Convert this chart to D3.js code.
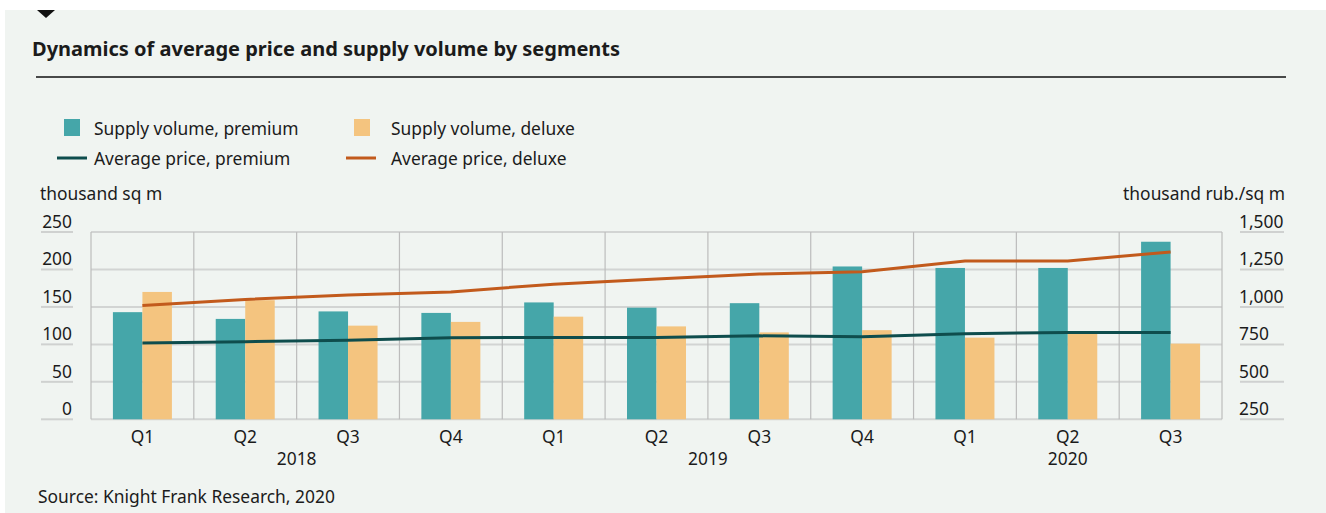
<!DOCTYPE html>
<html>
<head>
<meta charset="utf-8">
<script src="https://cdn.jsdelivr.net/npm/d3@7"></script>
<style>
  body { margin: 0; background: #fff; }
  svg text { font-family: "Noto Sans", "Open Sans", sans-serif; fill: #1b1b1b; }
</style>
</head>
<body>
<div id="chart-area"></div>
<script>
// data
const quarters = ["Q1", "Q2", "Q3", "Q4", "Q1", "Q2", "Q3", "Q4", "Q1", "Q2", "Q3"]
const years = [
  { label: "2018", from: 0, to: 3 },
  { label: "2019", from: 4, to: 7 },
  { label: "2020", from: 8, to: 10 }
]
const volPremium = [143, 134, 144, 142, 156, 149, 155, 204, 202, 202, 237]
const volDeluxe = [170, 159, 125, 130, 137, 124, 116, 119, 109, 115, 101]
const pricePremium = [760, 768, 778, 794, 796, 796, 807, 801, 821, 830, 830]
const priceDeluxe = [1010, 1050, 1080, 1100, 1152, 1187, 1219, 1234, 1307, 1307, 1367]
const leftTicks = [0, 50, 100, 150, 200, 250]
const rightTicks = [250, 500, 750, 1000, 1250, 1500]

const W = 1326, H = 513
const PLOT = { LEFT: 91, RIGHT: 1222, TOP: 232, BOTTOM: 419.3 }

const svg = d3.select("#chart-area").append("svg")
  .attr("width", W)
  .attr("height", H)

// panel background
svg.append("rect")
  .attr("x", 5).attr("y", 10)
  .attr("width", W - 5).attr("height", H - 10)
  .attr("fill", "#f0f4f1")

// small triangle marker
svg.append("path")
  .attr("d", "M37,10 L55,10 L46,18 Z")
  .attr("fill", "#111")

svg.append("text")
  .attr("x", 32).attr("y", 56)
  .style("font-size", "20px")
  .style("font-weight", "bold")
  .text("Dynamics of average price and supply volume by segments")

svg.append("line")
  .attr("x1", 36).attr("x2", 1286)
  .attr("y1", 77).attr("y2", 77)
  .attr("stroke", "#111").attr("stroke-width", 1.3)

// legend
const legend = svg.append("g").attr("class", "legend")
const legItems = [
  { x: 64, y: 119, type: "rect", color: "#45a6a9", text: "Supply volume, premium", tx: 94, ty: 135 },
  { x: 354, y: 119, type: "rect", color: "#f4c47f", text: "Supply volume, deluxe", tx: 391, ty: 135 },
  { x: 57, y: 158, type: "line", color: "#0e4d4d", text: "Average price, premium", tx: 94, ty: 165 },
  { x: 346, y: 158, type: "line", color: "#c25a1c", text: "Average price, deluxe", tx: 391, ty: 165 }
]
legItems.forEach(d => {
  if (d.type === "rect") {
    legend.append("rect")
      .attr("x", d.x).attr("y", d.y)
      .attr("width", 16).attr("height", 17)
      .attr("fill", d.color)
  } else {
    legend.append("line")
      .attr("x1", d.x).attr("x2", d.x + 30)
      .attr("y1", d.y).attr("y2", d.y)
      .attr("stroke", d.color).attr("stroke-width", 3)
  }
  legend.append("text")
    .attr("x", d.tx).attr("y", d.ty)
    .style("font-size", "17.4px")
    .text(d.text)
})

// axis titles
svg.append("text")
  .attr("x", 40).attr("y", 200)
  .style("font-size", "17.4px")
  .text("thousand sq m")
svg.append("text")
  .attr("x", 1285).attr("y", 200)
  .attr("text-anchor", "end")
  .style("font-size", "17.4px")
  .text("thousand rub./sq m")

// scales
const x = d3.scaleBand()
  .domain(d3.range(quarters.length))
  .range([PLOT.LEFT, PLOT.RIGHT])
const bw = 29.5
const yL = d3.scaleLinear().domain([0, 250]).range([PLOT.BOTTOM, PLOT.TOP])
const yR = d3.scaleLinear().domain([250, 1500]).range([PLOT.BOTTOM, PLOT.TOP])
const cx = i => x(i) + x.bandwidth() / 2

const grid = svg.append("g").attr("class", "grid")
// horizontal gridlines
grid.selectAll(".hgrid")
  .data(leftTicks)
  .enter().append("line")
    .attr("class", "hgrid")
    .attr("x1", PLOT.LEFT).attr("x2", PLOT.RIGHT)
    .attr("y1", d => yL(d)).attr("y2", d => yL(d))
    .attr("stroke", "#d2d4d3").attr("stroke-width", 2)
// vertical gridlines at category boundaries
grid.selectAll(".vgrid")
  .data(d3.range(quarters.length + 1))
  .enter().append("line")
    .attr("class", "vgrid")
    .attr("x1", d => PLOT.LEFT + d * x.step())
    .attr("x2", d => PLOT.LEFT + d * x.step())
    .attr("y1", PLOT.TOP).attr("y2", PLOT.BOTTOM)
    .attr("stroke", "#bcbcbc").attr("stroke-width", 1.2)

// left axis labels with underline
const leftAx = svg.append("g").attr("class", "y axis left")
leftTicks.forEach(t => {
  leftAx.append("line")
    .attr("x1", 41).attr("x2", 73)
    .attr("y1", yL(t)).attr("y2", yL(t))
    .attr("stroke", "#cfd1d0").attr("stroke-width", 2)
  leftAx.append("text")
    .attr("x", 72).attr("y", yL(t) - 4)
    .attr("text-anchor", "end")
    .style("font-size", "17.4px")
    .text(t)
})
const fmt = d3.format(",")
const rightAx = svg.append("g").attr("class", "y axis right")
rightTicks.forEach(t => {
  rightAx.append("line")
    .attr("x1", 1240).attr("x2", 1284)
    .attr("y1", yR(t)).attr("y2", yR(t))
    .attr("stroke", "#cfd1d0").attr("stroke-width", 2)
  rightAx.append("text")
    .attr("x", 1239).attr("y", yR(t) - 4)
    .style("font-size", "17.4px")
    .text(fmt(t))
})

// bars
const bars = svg.append("g").attr("class", "bars")
bars.selectAll(".bar-prem")
  .data(volPremium)
  .enter().append("rect")
    .attr("class", "bar-prem")
    .attr("x", (d, i) => cx(i) - bw)
    .attr("y", d => yL(d))
    .attr("width", bw)
    .attr("height", d => yL(0) - yL(d))
    .attr("fill", "#45a6a9")
bars.selectAll(".bar-dlx")
  .data(volDeluxe)
  .enter().append("rect")
    .attr("class", "bar-dlx")
    .attr("x", (d, i) => cx(i))
    .attr("y", d => yL(d))
    .attr("width", bw)
    .attr("height", d => yL(0) - yL(d))
    .attr("fill", "#f4c47f")

// price lines
const line = d3.line()
  .x((d, i) => cx(i))
  .y(d => yR(d))
svg.append("path")
  .attr("class", "line premium")
  .attr("d", line(pricePremium))
  .attr("fill", "none")
  .attr("stroke", "#0e4d4d")
  .attr("stroke-width", 3)
svg.append("path")
  .attr("class", "line deluxe")
  .attr("d", line(priceDeluxe))
  .attr("fill", "none")
  .attr("stroke", "#c25a1c")
  .attr("stroke-width", 3)

// x labels
svg.append("g").selectAll("text")
  .data(quarters)
  .enter().append("text")
    .attr("x", (d, i) => cx(i))
    .attr("y", 443)
    .attr("text-anchor", "middle")
    .style("font-size", "17.4px")
    .text(d => d)
svg.append("g").selectAll("text")
  .data(years)
  .enter().append("text")
    .attr("x", d => (x(d.from) + x(d.to) + x.bandwidth()) / 2)
    .attr("y", 465)
    .attr("text-anchor", "middle")
    .style("font-size", "17.4px")
    .text(d => d.label)

svg.append("text")
  .attr("x", 38).attr("y", 503)
  .style("font-size", "17.4px")
  .text("Source: Knight Frank Research, 2020")
</script>
</body>
</html>
